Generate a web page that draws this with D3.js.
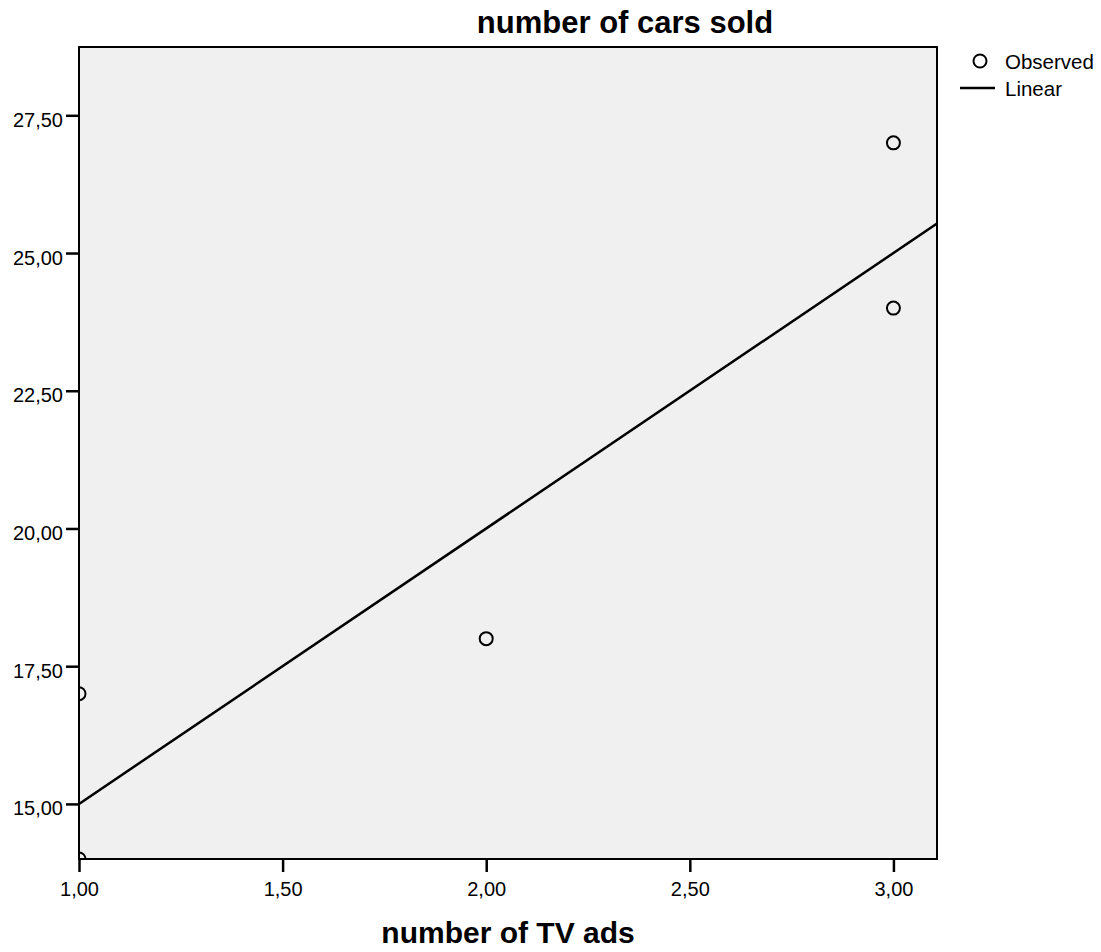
<!DOCTYPE html>
<html>
<head>
<meta charset="utf-8">
<script src="https://cdn.jsdelivr.net/npm/d3@7"></script>
<style>
  body { margin: 0; background: #fff; }
  svg { display: block; font-family: "Liberation Sans", Arial, sans-serif; }
</style>
</head>
<body>
<svg id="chart" width="1101" height="952"></svg>
<script>
// Data
const tvAds = [1, 1, 2, 3, 3];
const carsSold = [14, 17, 18, 27, 24];
const xTicks = [1.0, 1.5, 2.0, 2.5, 3.0];
const yTicks = [15.0, 17.5, 20.0, 22.5, 25.0, 27.5];
const xDomain = [1.0, 3.107];
const yDomain = [14.0, 28.74];
const legendLabels = ["Observed", "Linear"];

const svg = d3.select("#chart");
const margin = { left: 79, top: 47, right: 1101 - 937, bottom: 952 - 859 };
const W = 1101, H = 952;

const x = d3.scaleLinear().domain(xDomain).range([margin.left, W - margin.right]);
const y = d3.scaleLinear().domain(yDomain).range([H - margin.bottom, margin.top]);

const fmt = v => d3.format(".2f")(v).replace(".", ",");

// Least-squares fit from data
const mx = d3.mean(tvAds), my = d3.mean(carsSold);
const sxy = d3.sum(tvAds, (v, i) => (v - mx) * (carsSold[i] - my));
const sxx = d3.sum(tvAds, v => (v - mx) * (v - mx));
const slope = sxy / sxx, intercept = my - slope * mx;

// Plot background
svg.append("rect")
  .attr("x", x(xDomain[0])).attr("y", y(yDomain[1]))
  .attr("width", x(xDomain[1]) - x(xDomain[0]))
  .attr("height", y(yDomain[0]) - y(yDomain[1]))
  .attr("fill", "#f0f0f0");

svg.append("clipPath").attr("id", "plotclip").append("rect")
  .attr("x", x(xDomain[0])).attr("y", y(yDomain[1]))
  .attr("width", x(xDomain[1]) - x(xDomain[0]))
  .attr("height", y(yDomain[0]) - y(yDomain[1]));

const plot = svg.append("g").attr("clip-path", "url(#plotclip)");

// Fit line
plot.append("line")
  .attr("x1", x(xDomain[0])).attr("y1", y(intercept + slope * xDomain[0]))
  .attr("x2", x(xDomain[1])).attr("y2", y(intercept + slope * xDomain[1]))
  .attr("stroke", "#000").attr("stroke-width", 2.5);

// Observed points
plot.selectAll("circle.obs").data(tvAds.map((v, i) => [v, carsSold[i]]))
  .join("circle").attr("class", "obs")
  .attr("cx", d => x(d[0])).attr("cy", d => y(d[1]))
  .attr("r", 6.5).attr("fill", "none").attr("stroke", "#000").attr("stroke-width", 2);

// Frame
svg.append("rect")
  .attr("x", x(xDomain[0])).attr("y", y(yDomain[1]))
  .attr("width", x(xDomain[1]) - x(xDomain[0]))
  .attr("height", y(yDomain[0]) - y(yDomain[1]))
  .attr("fill", "none").attr("stroke", "#000").attr("stroke-width", 2);

// Axes
const xAxis = svg.append("g").attr("transform", `translate(0,${y(yDomain[0])})`)
  .call(d3.axisBottom(x).tickValues(xTicks).tickFormat(fmt).tickSize(13).tickPadding(10));
const yAxis = svg.append("g").attr("transform", `translate(${x(xDomain[0])},0)`)
  .call(d3.axisLeft(y).tickValues(yTicks).tickFormat(fmt).tickSize(13).tickPadding(3));
[xAxis, yAxis].forEach(a => {
  a.select(".domain").remove();
  a.selectAll(".tick line").attr("stroke", "#000").attr("stroke-width", 2.5);
  a.selectAll(".tick text").attr("fill", "#000")
    .style("font-family", "'Liberation Sans', Arial, sans-serif").style("font-size", "20px");
});
yAxis.selectAll(".tick text").attr("dy", "0.55em");

// Titles
svg.append("text").attr("x", 625).attr("y", 33).attr("text-anchor", "middle")
  .style("font-size", "31px").style("font-weight", "bold").text("number of cars sold");
svg.append("text").attr("x", 508).attr("y", 943).attr("text-anchor", "middle")
  .style("font-size", "30px").style("font-weight", "bold").text("number of TV ads");

// Legend
const lg = svg.append("g");
lg.append("circle").attr("cx", 980).attr("cy", 61).attr("r", 6.5)
  .attr("fill", "none").attr("stroke", "#000").attr("stroke-width", 2);
lg.append("text").attr("x", 1005).attr("y", 68.5).style("font-size", "20.5px").text(legendLabels[0]);
lg.append("line").attr("x1", 960).attr("x2", 995).attr("y1", 88).attr("y2", 88)
  .attr("stroke", "#000").attr("stroke-width", 2.5);
lg.append("text").attr("x", 1005).attr("y", 96).style("font-size", "20.5px").text(legendLabels[1]);
</script>
</body>
</html>
